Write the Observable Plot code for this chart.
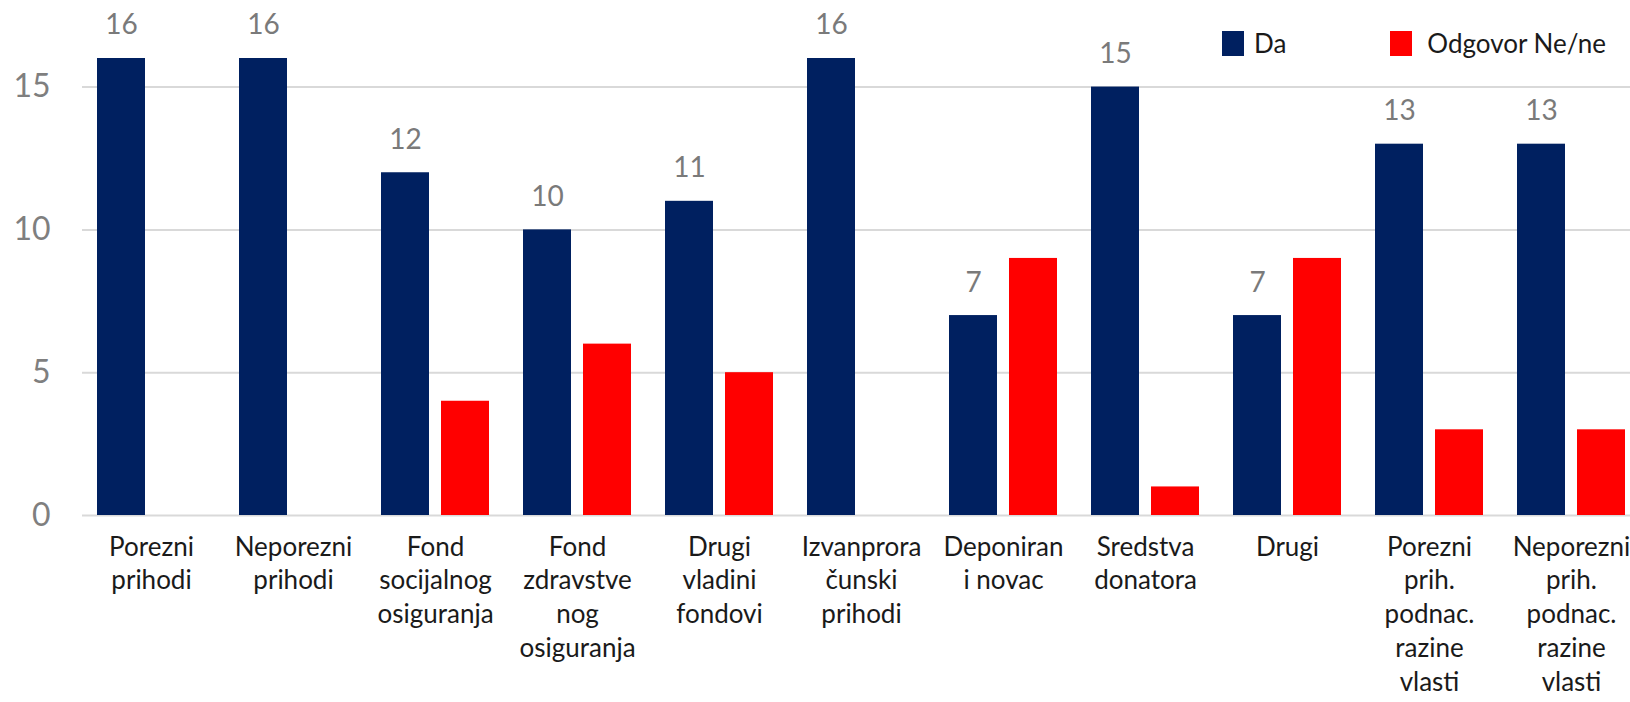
<!DOCTYPE html>
<html>
<head>
<meta charset="utf-8">
<script src="https://cdn.jsdelivr.net/npm/d3@7"></script>
<script src="https://cdn.jsdelivr.net/npm/@observablehq/plot@0.6"></script>
<style>
  html, body { margin: 0; padding: 0; background: #fff; }
  #wrap { position: relative; width: 1630px; height: 702px; overflow: hidden; font-family: Lato, "Open Sans", sans-serif; }
  #legend { position: absolute; left: 1222px; top: 27px; display: flex; align-items: center; font-size: 26px; color: #1a1a1a; }
  #legend .item { display: flex; align-items: center; }
  #legend .sw { width: 22px; height: 25px; margin-right: 10px; }
  g[aria-label="y-axis tick label"] { fill: #7f7f7f; }
</style>
</head>
<body>
<div id="wrap">
  <div id="chart"></div>
  <div id="legend"></div>
</div>
<script>
const categories = [
  "Porezni\nprihodi",
  "Neporezni\nprihodi",
  "Fond\nsocijalnog\nosiguranja",
  "Fond\nzdravstve\nnog\nosiguranja",
  "Drugi\nvladini\nfondovi",
  "Izvanprora\nčunski\nprihodi",
  "Deponiran\ni novac",
  "Sredstva\ndonatora",
  "Drugi",
  "Porezni\nprih.\npodnac.\nrazine\nvlasti",
  "Neporezni\nprih.\npodnac.\nrazine\nvlasti"
];
const seriesNames = ["Da", "Odgovor Ne/ne"];
const seriesColors = ["#002060", "#FF0000"];
const daValues = [16, 16, 12, 10, 11, 16, 7, 15, 7, 13, 13];
const neValues = [0, 0, 4, 6, 5, 0, 9, 1, 9, 3, 3];
const yTicks = [0, 5, 10, 15];

const daData = categories.map((c, i) => ({category: c, value: daValues[i]}));
const neData = categories.map((c, i) => ({category: c, value: neValues[i]})).filter(d => d.value > 0);

const chart = Plot.plot({
  width: 1630,
  height: 702,
  marginLeft: 82,
  marginRight: 0,
  style: {fontFamily: "Lato, 'Open Sans', sans-serif", background: "#fff"},
  x: {domain: categories, range: [80, 1642], padding: 0, axis: null},
  y: {domain: [0, 16], range: [515, 58]},
  marks: [
    Plot.ruleY(yTicks, {stroke: "#d9d9d9", strokeWidth: 2}),
    Plot.barY(daData, {x: "category", y: "value", fill: seriesColors[0], insetLeft: 17, insetRight: 77}),
    Plot.barY(neData, {x: "category", y: "value", fill: seriesColors[1], insetLeft: 77, insetRight: 17}),
    Plot.text(daData, {x: "category", y: "value", text: d => String(d.value), dx: -30, dy: -33, lineAnchor: "middle", fontSize: 28, fill: "#7a7a7a"}),
    Plot.text(categories, {x: d => d, y: () => 0, text: d => d, dy: 16, lineAnchor: "top", lineHeight: 1.3, fontSize: 26, fill: "#1a1a1a"}),
    Plot.axisY({ticks: yTicks, tickSize: 0, tickPadding: 32, fontSize: 32, fill: "#7f7f7f", label: null})
  ]
});
document.getElementById("chart").appendChild(chart);

const legend = document.getElementById("legend");
seriesNames.forEach((name, i) => {
  const item = document.createElement("div");
  item.className = "item";
  if (i > 0) item.style.marginLeft = "104px";
  const sw = document.createElement("span");
  sw.className = "sw";
  sw.style.background = seriesColors[i];
  if (i > 0) sw.style.marginRight = "15px";
  const label = document.createElement("span");
  label.textContent = name;
  item.appendChild(sw);
  item.appendChild(label);
  legend.appendChild(item);
});
</script>
</body>
</html>
